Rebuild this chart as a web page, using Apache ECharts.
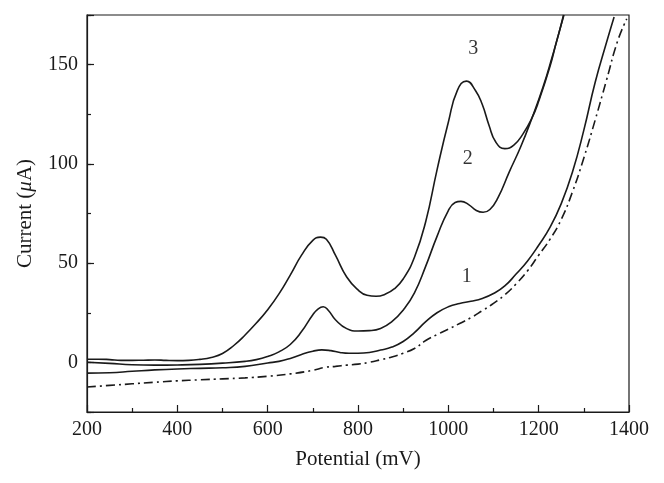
<!DOCTYPE html>
<html>
<head>
<meta charset="utf-8">
<script src="https://cdn.jsdelivr.net/npm/echarts@6/dist/echarts.min.js"></script>
<style>html,body{margin:0;padding:0;background:#fff}#c{width:664px;height:483px}</style>
</head>
<body>
<div id="c"></div>
<script>
// Curve 3
const c3x = [200,225,250,275,300,325,350,375,400,425,450,475,500,525,550,575,600,625,650,675,700,717,730,750,775,800,820,840,860,880,900,925,950,975,1000,1020,1040,1060,1075,1090,1105,1125,1145,1165,1185,1200,1225,1240,1256];
const c3y = [1.6,1.6,1.4,1.0,1.0,1.1,1.2,1.0,0.9,1.0,1.5,2.5,4.5,8.5,13.8,19.8,26.5,34.5,44,54,61.5,63.1,62,54,43,36.5,33.8,33.3,34.3,37,42,53,71,97,121,137,141.7,137,130,119.5,111,107.7,109.5,115,123,131.5,149,162,175];
// Curve 2
const c2x = [200,250,300,350,400,450,500,550,575,600,625,650,675,700,712,723,735,750,775,800,825,850,875,900,925,950,975,1000,1015,1028,1045,1062,1077,1092,1110,1135,1160,1185,1210,1230,1245,1255];
const c2y = [0.1,-0.5,-1.2,-1.4,-1.3,-1.0,-0.4,0.5,1.4,3,5.3,9,15.5,24,27,28,26,21.5,17,15.8,16,17.1,20.5,26.3,35,48.5,63.5,76.5,80.5,81.1,79.5,76.5,75.6,77,83,96,108.5,123,139,154,166,175];
// Curve 1
const c1x = [200,250,300,350,400,450,500,550,600,625,650,675,700,720,740,760,780,800,825,850,875,900,925,950,975,1000,1025,1050,1075,1100,1125,1150,1175,1200,1225,1250,1275,1300,1325,1350,1367];
const c1y = [-5.4,-5.2,-4.5,-3.8,-3.3,-3.0,-2.7,-2,-0.3,0.5,2,4,5.6,6.3,5.9,5,4.6,4.6,5,6.2,7.7,10.5,15,20.5,25,28,29.7,30.8,32.2,34.7,38.5,44.5,51,59,68,80,96,117,141,161,174];
// Blank (dash-dot)
const c0x = [200,250,300,350,400,450,500,550,600,650,700,725,750,775,800,825,850,875,900,925,950,975,1000,1025,1050,1075,1100,1125,1150,1175,1200,1225,1250,1275,1300,1325,1350,1375,1395];
const c0y = [-12.4,-11.6,-10.8,-10,-9.3,-8.8,-8.3,-7.8,-7.0,-5.8,-4,-2.6,-2,-1.4,-0.9,0,1.3,2.7,4.6,7,11,14,16.7,19.6,22.5,26,29.7,34,39.5,46,54,62,72,86,103,122,142,162,173];
// Curve annotations
const annotText = ['3','2','1'];
const annotX = [1055,1043,1041];
const annotY = [158,102.4,43];

const zip = (xs, ys) => xs.map((x, i) => [x, ys[i]]);
const FONT = 'Liberation Serif';
const ink = '#1a1a1a';
const lineSeries = (data, dash) => ({
  type: 'line', data, showSymbol: false, smooth: 0.5, clip: true,
  lineStyle: { color: ink, width: 1.6, type: dash || 'solid' },
  silent: true, animation: false
});

const chart = echarts.init(document.getElementById('c'), null, { renderer: 'canvas' });
chart.setOption({
  animation: false,
  backgroundColor: '#fff',
  grid: { left: 87, right: 35, top: 15, bottom: 71, show: true, borderColor: ink, borderWidth: 1.2, backgroundColor: 'transparent' },
  xAxis: {
    type: 'value', min: 200, max: 1400, interval: 200,
    name: 'Potential (mV)', nameLocation: 'middle', nameGap: 37,
    nameTextStyle: { fontFamily: FONT, fontSize: 21, color: ink },
    axisLine: { onZero: false, lineStyle: { color: ink, width: 1.2 } },
    axisTick: { inside: true, length: 7, lineStyle: { color: ink, width: 1.2 } },
    minorTick: { show: true, splitNumber: 2, length: 4, lineStyle: { color: ink, width: 1.2 } },
    axisLabel: { fontFamily: FONT, fontSize: 20, color: ink, margin: 8, formatter: v => String(v) },
    splitLine: { show: false }
  },
  yAxis: [{
    type: 'value', min: -25, max: 175, splitNumber: 4,
    name: 'Current ({i|μ}A)', nameLocation: 'middle', nameGap: 51, nameRotate: 90,
    nameTextStyle: { fontFamily: FONT, fontSize: 21, color: ink, rich: { i: { fontFamily: FONT, fontSize: 21, fontStyle: 'italic', color: ink } } },
    axisLine: { onZero: false, lineStyle: { color: ink, width: 1.2 } },
    axisTick: { inside: true, length: 7, lineStyle: { color: ink, width: 1.2 } },
    axisLabel: { fontFamily: FONT, fontSize: 20, color: ink, margin: 9,
      formatter: v => (v % 50 === 0 && v >= 0 && v <= 150) ? String(v) : '' },
    splitLine: { show: false }
  }, {
    type: 'value', min: -25, max: 175, interval: 25, position: 'left',
    axisLine: { show: false, onZero: false },
    axisTick: { inside: true, length: 4, lineStyle: { color: ink, width: 1.2 } },
    axisLabel: { show: false },
    splitLine: { show: false }
  }],
  series: [
    lineSeries(zip(c0x, c0y), [9, 4, 2, 4]),
    lineSeries(zip(c1x, c1y)),
    lineSeries(zip(c2x, c2y)),
    lineSeries(zip(c3x, c3y)),
    {
      type: 'scatter', symbolSize: 0, silent: true,
      data: annotText.map((t, i) => ({ value: [annotX[i], annotY[i]], name: t })),
      label: { show: true, position: 'inside', formatter: p => p.name, fontFamily: FONT, fontSize: 20, color: '#000' }
    }
  ]
});
</script>
</body>
</html>
